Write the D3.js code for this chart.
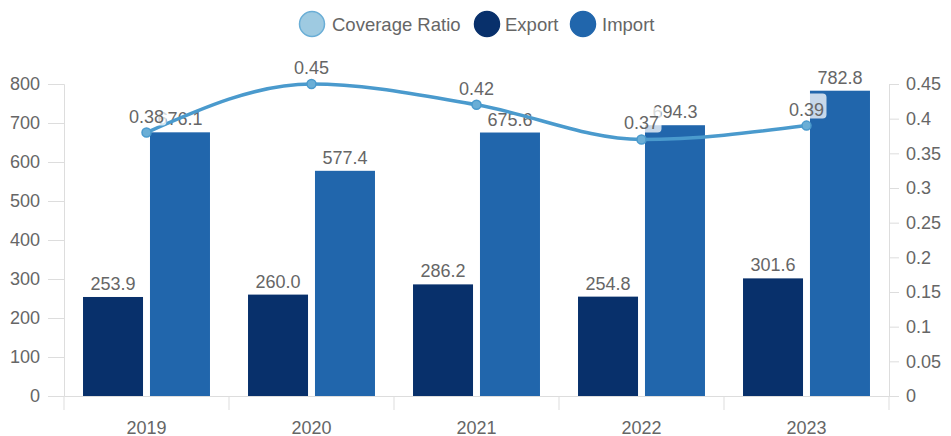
<!DOCTYPE html>
<html lang="en">
  <head>
    <meta charset="UTF-8" />
    <title>Export / Import</title>
    <style>
      body { margin: 0; background: #fff; }
      svg text { font-family: "Liberation Sans", Arial, sans-serif; fill: #666; }
    </style>
  </head>
  <body>
    <svg id="chart" width="951" height="436"></svg>

    <script src="https://d3js.org/d3.v7.min.js"></script>
    <script>
      // data
      const years = ["2019", "2020", "2021", "2022", "2023"];
      const exportVals = [253.9, 260.0, 286.2, 254.8, 301.6];
      const importVals = [676.1, 577.4, 675.6, 694.3, 782.8];
      const ratioVals = [0.38, 0.45, 0.42, 0.37, 0.39];
      const leftTicks = [0, 100, 200, 300, 400, 500, 600, 700, 800];
      const rightTicks = [0, 0.05, 0.1, 0.15, 0.2, 0.25, 0.3, 0.35, 0.4, 0.45];

      const colExport = "#08306b";
      const colImport = "#2166ac";
      const colLine = "#4a9acd";

      const plotL = 64, plotR = 889, plotT = 84, plotB = 396;
      const fs = "18px";
      const svg = d3.select("#chart");

      const x = d3.scaleBand().domain(years).range([plotL, plotR]);
      const xs = d3.scaleBand().domain(["export", "import"])
        .range([0, x.bandwidth()]).paddingInner(0.104).paddingOuter(0.284);
      const yL = d3.scaleLinear().domain([0, 800]).range([plotB, plotT]);
      const yR = d3.scaleLinear().domain([0, 0.45]).range([plotB, plotT]);

      // left axis
      const axL = svg.append("g").attr("transform", `translate(${plotL},0)`)
        .call(d3.axisLeft(yL).tickValues(leftTicks).tickSize(16).tickPadding(8));
      axL.select(".domain").attr("stroke", "#ddd");
      axL.selectAll(".tick line").attr("stroke", "#ddd");
      axL.selectAll("text").style("font-size", fs).attr("fill", "#666");

      // right axis
      const axR = svg.append("g").attr("transform", `translate(${plotR},0)`)
        .call(d3.axisRight(yR).tickValues(rightTicks).tickSize(10).tickPadding(7)
          .tickFormat(d => d3.format("~g")(+d.toFixed(2))));
      axR.select(".domain").attr("stroke", "#ddd");
      axR.selectAll(".tick line").attr("stroke", "#ddd");
      axR.selectAll("text").style("font-size", fs).attr("fill", "#666");

      // x axis
      const axX = svg.append("g").attr("transform", `translate(0,${plotB})`)
        .call(d3.axisBottom(x).tickSize(0).tickPadding(25));
      axX.select(".domain").attr("stroke", "#ddd");
      axX.selectAll("text").style("font-size", fs).attr("fill", "#666");
      const bounds = years.map(d => x(d)).concat([plotR]);
      axX.selectAll(".sep").data(bounds).join("line")
        .attr("x1", d => d).attr("x2", d => d).attr("y1", 0).attr("y2", 14)
        .attr("stroke", "#ddd");

      // bars
      const rows = years.map((y, i) => ({ year: y, export: exportVals[i], import: importVals[i], ratio: ratioVals[i] }));
      const groups = svg.append("g").selectAll("g").data(rows).join("g")
        .attr("transform", d => `translate(${x(d.year)},0)`);
      ["export", "import"].forEach(k => {
        groups.append("rect")
          .attr("x", xs(k)).attr("width", xs.bandwidth())
          .attr("y", d => yL(d[k])).attr("height", d => plotB - yL(d[k]))
          .attr("fill", k === "export" ? colExport : colImport);
      });

      // ratio line
      const cx = d => x(d.year) + x.bandwidth() / 2;
      svg.append("path").datum(rows)
        .attr("d", d3.line().x(cx).y(d => yR(d.ratio)).curve(d3.curveMonotoneX))
        .attr("fill", "none").attr("stroke", colLine).attr("stroke-width", 3.5);
      svg.append("g").selectAll("circle").data(rows).join("circle")
        .attr("cx", cx).attr("cy", d => yR(d.ratio)).attr("r", 4.5)
        .attr("fill", "#6aaed6").attr("stroke", colLine).attr("stroke-width", 1.5);

      // ratio labels with light box
      const rl = svg.append("g").selectAll("g").data(rows).join("g")
        .attr("transform", d => `translate(${cx(d)},${yR(d.ratio) - 10})`);
      rl.append("rect").attr("x", -20).attr("y", -22).attr("width", 40).attr("height", 25)
        .attr("rx", 4).attr("fill", "#fff").attr("fill-opacity", 0.75);
      rl.append("text").attr("text-anchor", "middle").style("font-size", fs)
        .text(d => d3.format(".2f")(d.ratio));

      // bar labels
      ["export", "import"].forEach(k => {
        groups.append("text")
          .attr("x", xs(k) + xs.bandwidth() / 2).attr("y", d => yL(d[k]) - 7)
          .attr("text-anchor", "middle").style("font-size", fs)
          .text(d => d[k].toFixed(1));
      });

      // legend
      const legend = [
        { name: "Coverage Ratio", fill: "#9ecae1", stroke: "#6aaed6", cx: 312, tx: 332 },
        { name: "Export", fill: colExport, stroke: colExport, cx: 487, tx: 505 },
        { name: "Import", fill: colImport, stroke: colImport, cx: 583, tx: 602 }
      ];
      const lg = svg.append("g").selectAll("g").data(legend).join("g");
      lg.append("circle").attr("cx", d => d.cx).attr("cy", 24).attr("r", 12.5)
        .attr("fill", d => d.fill).attr("stroke", d => d.stroke).attr("stroke-width", 1.5);
      lg.append("text").attr("x", d => d.tx).attr("y", 31).style("font-size", "18.5px")
        .text(d => d.name);
    </script>
  </body>
</html>
